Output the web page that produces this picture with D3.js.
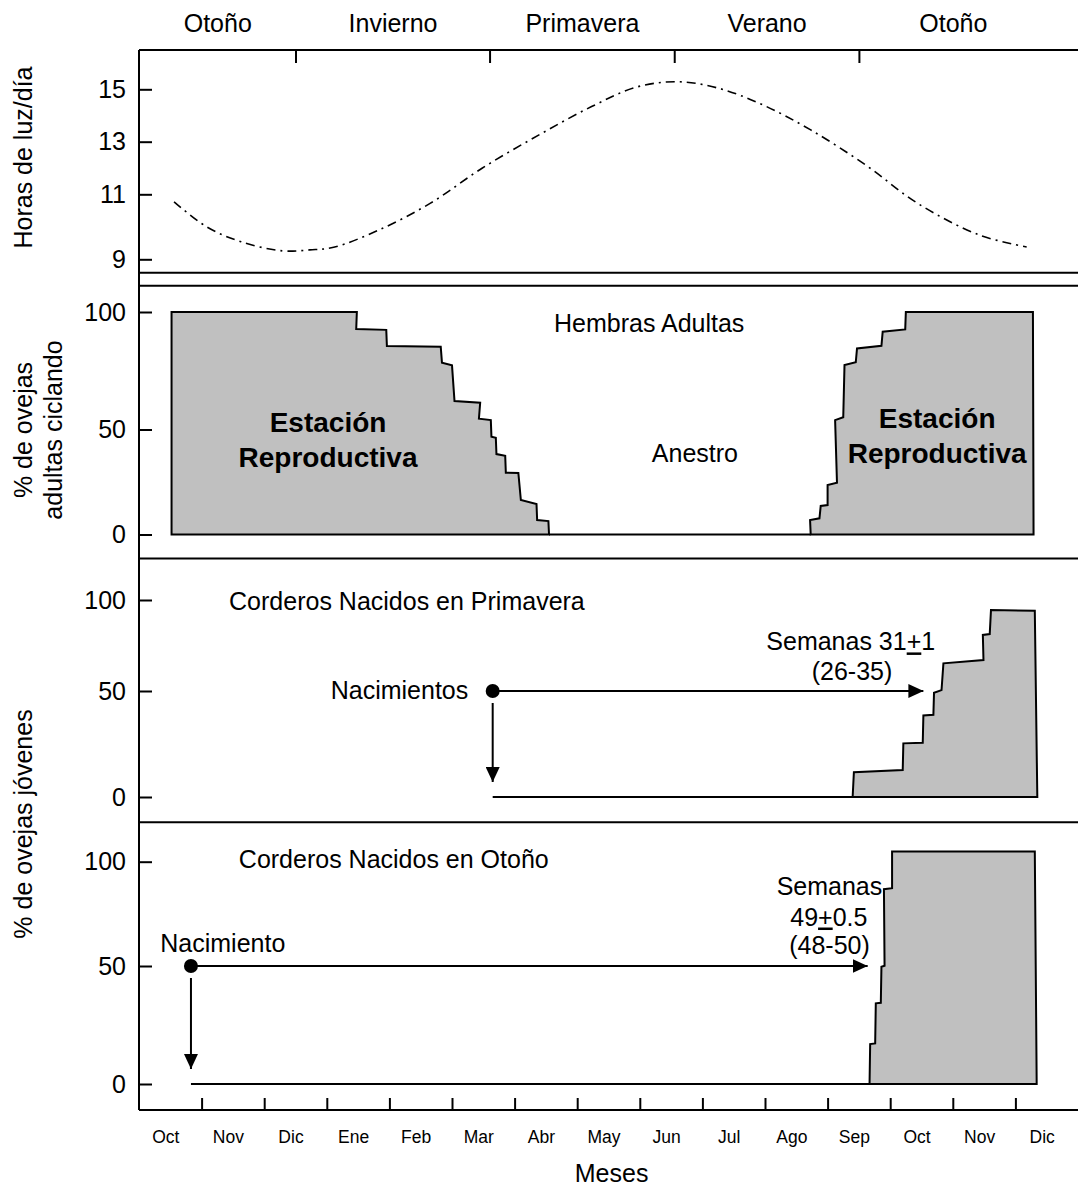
<!DOCTYPE html>
<html>
<head>
<meta charset="utf-8">
<script src="https://cdn.jsdelivr.net/npm/d3@7"></script>
<style>
  body { margin: 0; background: #fff; }
  svg { display: block; font-family: "Liberation Sans", Arial, sans-serif; }
</style>
</head>
<body>
<div id="chart"></div>
<script>
// x values are months counted from 1 Oct (0) to 1 Jan of the second year (15)
const monthLabels = ["Oct", "Nov", "Dic", "Ene", "Feb", "Mar", "Abr", "May", "Jun", "Jul", "Ago", "Sep", "Oct", "Nov", "Dic"];
const monthStarts = d3.range(1, 15);
const seasonNames = ["Otoño", "Invierno", "Primavera", "Verano", "Otoño"];
const seasonBounds = [0, 2.5, 5.6, 8.55, 11.5, 14.5];

const hourTicks = [9, 11, 13, 15];
const pctTicks = [0, 50, 100];

// daylight hours [month, hours]
const daylight = [
    [0.56, 10.77], [1.08, 10.0], [1.63, 9.54], [2.29, 9.26], [2.73, 9.29],
    [3.11, 9.37], [3.83, 9.9], [4.65, 10.72], [5.48, 11.99], [6.39, 13.26],
    [7.23, 14.34], [7.94, 15.08], [8.6, 15.29], [9.26, 15.04], [9.97, 14.4],
    [10.73, 13.45], [11.61, 12.11], [12.44, 10.72], [13.42, 9.75], [14.18, 9.38]
];

// % adult ewes cycling, outline of the breeding season [month, %]
const adultEnd = [
    [0.52, 0], [0.52, 100], [3.48, 100], [3.47, 92.8], [3.95, 92.4], [3.96, 85.5],
    [4.82, 85.2], [4.84, 78.4], [5.0, 77.3], [5.04, 62.1], [5.45, 61.4], [5.43, 54.6],
    [5.62, 54.0], [5.63, 46.6], [5.7, 46.1], [5.71, 38.3], [5.85, 37.5], [5.86, 29.4],
    [6.06, 29.3], [6.1, 16.4], [6.35, 14.5], [6.36, 6.9], [6.54, 6.4], [6.55, 0]
];
const adultStart = [
    [10.73, 0], [10.72, 6.9], [10.87, 7.7], [10.89, 13.6], [11.0, 14.0], [11.0, 23.6],
    [11.15, 24.7], [11.12, 54.0], [11.25, 55.2], [11.27, 77.4], [11.45, 78.6], [11.47, 84.5],
    [11.86, 85.6], [11.88, 91.6], [12.24, 92.6], [12.25, 100], [14.28, 100], [14.29, 0]
];

// % young ewes reaching puberty [month, %]
const springLambs = [
    [11.4, 0], [11.42, 11.7], [12.2, 12.7], [12.21, 25.3], [12.52, 25.6], [12.53, 38.5],
    [12.69, 38.8], [12.7, 49.2], [12.82, 50.5], [12.85, 65.2], [13.49, 67.0], [13.48, 80.8],
    [13.59, 81.3], [13.61, 94.5], [14.31, 94.1], [14.35, 0]
];
const autumnLambs = [
    [11.67, 0], [11.68, 16.9], [11.76, 17.2], [11.77, 34.2], [11.85, 34.4], [11.86, 49.7],
    [11.91, 50.1], [11.9, 86.8], [12.03, 87.3], [12.03, 104.9], [14.31, 104.9], [14.34, 0]
];

const springBirth = { month: 5.65, pct: 50, puberty: 12.53 };
const autumnBirth = { month: 0.83, pct: 50, puberty: 11.64 };

const width = 1078, height = 1191;
const plotLeft = 139, plotTop = 50, plotBottom = 1110;
const gray = "#c0c0c0";

const svg = d3.select("#chart")
    .append("svg")
    .attr("width", width)
    .attr("height", height);

// arrow head
svg.append("defs").append("marker")
    .attr("id", "arrow")
    .attr("markerUnits", "userSpaceOnUse")
    .attr("viewBox", "0 0 15 14")
    .attr("refX", 15).attr("refY", 7)
    .attr("markerWidth", 15).attr("markerHeight", 14)
    .attr("orient", "auto")
    .append("path")
    .attr("d", "M0,0L15,7L0,14Z")
    .attr("fill", "#000");

const x = d3.scaleLinear().domain([0, 15]).range([plotLeft, width]);

// the panels were hand drawn, so each y axis is piecewise linear
const yHours = d3.scaleLinear().domain(hourTicks).range([259.3, 194.3, 141.7, 89.3]);
const yAdult = d3.scaleLinear().domain(pctTicks).range([534.5, 429.5, 312]);
const ySpring = d3.scaleLinear().domain(pctTicks).range([797, 691, 600]);
const yAutumn = d3.scaleLinear().domain(pctTicks).range([1084, 966, 861.7]);

// frame lines
const frame = svg.append("g").attr("stroke", "#000").attr("stroke-width", 2);
frame.append("line").attr("x1", plotLeft).attr("x2", plotLeft).attr("y1", plotTop).attr("y2", plotBottom);
[plotTop, 272.7, 285.7, 558.5, 822.3, plotBottom].forEach((yy) => {
    frame.append("line").attr("x1", plotLeft).attr("x2", width).attr("y1", yy).attr("y2", yy);
});

// season ticks and names on top
svg.append("g")
    .attr("transform", `translate(0,${plotTop})`)
    .call(d3.axisBottom(x).tickValues(seasonBounds.slice(1, -1)).tickSize(13).tickFormat(""))
    .call((g) => g.select(".domain").remove())
    .call((g) => g.selectAll("line").attr("stroke-width", 2));

svg.append("g")
    .attr("transform", `translate(0,${plotTop})`)
    .call(d3.axisTop(x)
        .tickValues(d3.range(seasonNames.length).map((i) => (seasonBounds[i] + seasonBounds[i + 1]) / 2))
        .tickSize(0).tickPadding(18)
        .tickFormat((d, i) => seasonNames[i]))
    .call((g) => g.select(".domain").remove())
    .selectAll("text")
    .style("font-size", "25px")
    .style("font-family", "Liberation Sans, Arial, sans-serif");

// y axes
function yAxis(scale, ticks) {
    svg.append("g")
        .attr("transform", `translate(${plotLeft},0)`)
        .call(d3.axisLeft(scale).tickValues(ticks).tickSize(-13).tickPadding(13).tickFormat(d3.format("d")))
        .call((g) => g.select(".domain").remove())
        .call((g) => g.selectAll("line").attr("stroke-width", 2))
        .selectAll("text")
        .style("font-size", "25px")
        .style("font-family", "Liberation Sans, Arial, sans-serif");
}
yAxis(yHours, hourTicks);
yAxis(yAdult, pctTicks);
yAxis(ySpring, pctTicks);
yAxis(yAutumn, pctTicks);

// month axis
svg.append("g")
    .attr("transform", `translate(0,${plotBottom})`)
    .call(d3.axisBottom(x).tickValues(monthStarts).tickSize(-12).tickFormat(""))
    .call((g) => g.select(".domain").remove())
    .call((g) => g.selectAll("line").attr("stroke-width", 2));

svg.append("g")
    .attr("transform", `translate(0,${plotBottom})`)
    .call(d3.axisBottom(x)
        .tickValues(monthLabels.map((m, i) => i + 0.42))
        .tickSize(0).tickPadding(21)
        .tickFormat((d, i) => monthLabels[i]))
    .call((g) => g.select(".domain").remove())
    .selectAll("text")
    .style("font-size", "17.5px")
    .style("font-family", "Liberation Sans, Arial, sans-serif");

// axis titles
function rotLabel(lines, cx, cy) {
    const t = svg.append("text")
        .attr("transform", `translate(0,${cy}) rotate(-90)`)
        .attr("text-anchor", "middle")
        .style("font-size", "25px");
    lines.forEach((s, i) => {
        t.append("tspan").attr("x", 0).attr("y", cx + i * 30).text(s);
    });
}
rotLabel(["Horas de luz/día"], 32, 157.5);
rotLabel(["% de ovejas", "adultas ciclando"], 32, 430);
rotLabel(["% de ovejas jóvenes"], 32, 824);

svg.append("text")
    .attr("x", x(7.55)).attr("y", 1182)
    .attr("text-anchor", "middle")
    .style("font-size", "25px")
    .text("Meses");

// daylight curve
const dayLine = d3.line()
    .x((d) => x(d[0]))
    .y((d) => yHours(d[1]))
    .curve(d3.curveCatmullRom);

svg.append("path")
    .datum(daylight)
    .attr("d", dayLine)
    .attr("fill", "none")
    .attr("stroke", "#000")
    .attr("stroke-width", 1.6)
    .attr("stroke-dasharray", "9,5,2,5");

// step shapes
function stepShape(data, yScale) {
    const line = d3.line().x((d) => x(d[0])).y((d) => yScale(d[1]));
    svg.append("path")
        .attr("d", line(data) + "Z")
        .attr("fill", gray)
        .attr("stroke", "#000")
        .attr("stroke-width", 2)
        .attr("stroke-linejoin", "miter");
}
function zeroLine(x0, x1, yScale) {
    svg.append("line")
        .attr("x1", x(x0)).attr("x2", x(x1))
        .attr("y1", yScale(0)).attr("y2", yScale(0))
        .attr("stroke", "#000").attr("stroke-width", 2);
}

zeroLine(adultEnd[adultEnd.length - 1][0], adultStart[0][0], yAdult);
stepShape(adultEnd, yAdult);
stepShape(adultStart, yAdult);

zeroLine(springBirth.month, springLambs[0][0], ySpring);
stepShape(springLambs, ySpring);

zeroLine(autumnBirth.month, autumnLambs[0][0], yAutumn);
stepShape(autumnLambs, yAutumn);

// birth markers and arrows
function birth(b, yScale) {
    const bx = x(b.month), by = yScale(b.pct);
    svg.append("line")
        .attr("x1", bx).attr("x2", x(b.puberty))
        .attr("y1", by).attr("y2", by)
        .attr("stroke", "#000").attr("stroke-width", 2)
        .attr("marker-end", "url(#arrow)");
    svg.append("line")
        .attr("x1", bx).attr("x2", bx)
        .attr("y1", by + 12).attr("y2", yScale(0) - 15)
        .attr("stroke", "#000").attr("stroke-width", 2)
        .attr("marker-end", "url(#arrow)");
    svg.append("circle")
        .attr("cx", bx).attr("cy", by).attr("r", 7)
        .attr("fill", "#000");
}
birth(springBirth, ySpring);
birth(autumnBirth, yAutumn);

// annotations
function note(str, mx, py, yScale, opts = {}) {
    return svg.append("text")
        .attr("x", x(mx)).attr("y", yScale(py))
        .attr("dy", "0.35em")
        .attr("text-anchor", opts.anchor || "middle")
        .style("font-size", opts.size || "25px")
        .style("font-weight", opts.bold ? "bold" : "normal")
        .text(str);
}
function plusMinus(pre, post, mx, py, yScale) {
    const t = note(pre, mx, py, yScale);
    t.append("tspan").style("text-decoration", "underline").text("+");
    t.append("tspan").text(post);
}

note("Hembras Adultas", 8.15, 95.3, yAdult);
note("Estación", 3.02, 53.3, yAdult, { bold: true, size: "28px" });
note("Reproductiva", 3.02, 37.0, yAdult, { bold: true, size: "28px" });
note("Estación", 12.75, 54.9, yAdult, { bold: true, size: "28px" });
note("Reproductiva", 12.75, 38.7, yAdult, { bold: true, size: "28px" });
note("Anestro", 8.88, 38.8, yAdult);

note("Corderos Nacidos en Primavera", 4.28, 99.5, ySpring);
note("Nacimientos", 5.26, 50.5, ySpring, { anchor: "end" });
plusMinus("Semanas 31", "1", 11.37, 77.1, ySpring);
note("(26-35)", 11.39, 60.6, ySpring);

note("Corderos Nacidos en Otoño", 4.07, 101.2, yAutumn);
note("Nacimiento", 0.34, 60.9, yAutumn, { anchor: "start" });
note("Semanas", 11.03, 88.0, yAutumn);
plusMinus("49", "0.5", 11.02, 73.6, yAutumn);
note("(48-50)", 11.03, 60.1, yAutumn);
</script>
</body>
</html>
